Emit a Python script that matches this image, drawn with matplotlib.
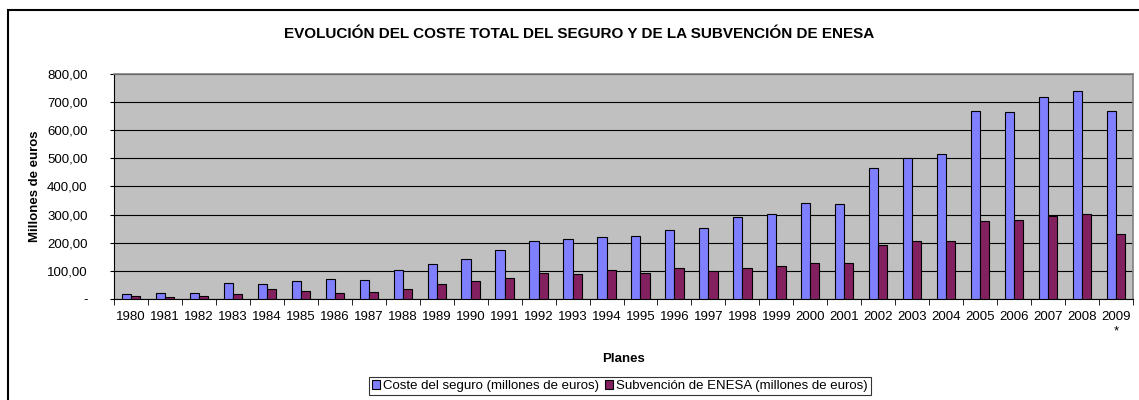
import matplotlib.pyplot as plt
import numpy as np
from matplotlib.patches import Rectangle
from matplotlib.ticker import FuncFormatter

plt.rcParams['font.family'] = ['Liberation Sans', 'DejaVu Sans']

years = [str(y) for y in range(1980, 2009)] + ["2009\n*"]

coste = [18, 21, 21, 57, 52, 65, 71, 69, 102, 124,
         142, 176, 205, 215, 220, 225, 247, 254, 291, 302,
         342, 338, 465, 501, 514, 669, 664, 717, 740, 669]

subvencion = [12, 8, 11, 18, 35, 30, 20, 25, 35, 53,
              65, 75, 92, 89, 102, 92, 110, 99, 112, 117,
              127, 127, 193, 207, 205, 278, 280, 296, 304, 231]

fig = plt.figure(figsize=(11.39, 4.0), dpi=100)
ax = fig.add_axes([114 / 1139, 1 - 299 / 400, (1133 - 114) / 1139, (299 - 74) / 400])

# outer chart border
fig.patches.append(Rectangle((7.5 / 1139, -0.05), 1.1, 1 - 9.5 / 400 + 0.05,
                             transform=fig.transFigure, fill=False,
                             edgecolor='black', linewidth=1.5))

x = np.arange(len(years))
w = 0.27
ax.bar(x - w / 2, coste, w, color='#8080FF', edgecolor='black', linewidth=0.8,
       label='Coste del seguro (millones de euros)', zorder=3)
ax.bar(x + w / 2, subvencion, w, color='#832060', edgecolor='black', linewidth=0.8,
       label='Subvención de ENESA (millones de euros)', zorder=3)

ax.set_facecolor('#C0C0C0')
ax.set_xlim(-0.5, len(years) - 0.5)
ax.set_ylim(0, 800)
ax.set_yticks(range(0, 801, 100))
ax.yaxis.set_major_formatter(FuncFormatter(
    lambda v, p: '-' if v == 0 else f"{v:.2f}".replace('.', ',')))
ax.grid(axis='y', color='black', linewidth=0.8, zorder=1)

ax.set_xticks(x)
ax.set_xticklabels(years, fontsize=9.5, linespacing=1.25)
ax.tick_params(axis='x', length=0, pad=9)
ax.set_xticks(np.arange(-0.5, len(years), 1), minor=True)
ax.tick_params(axis='x', which='minor', length=4, direction='out')
ax.tick_params(axis='y', labelsize=9.5, length=3, pad=16, direction='out')

for s in ['left', 'bottom']:
    ax.spines[s].set_color('black')
for s in ['top', 'right']:
    ax.spines[s].set_color('#808080')
    ax.spines[s].set_linewidth(1.2)

ax.set_xlabel('Planes', fontsize=9.5, fontweight='bold')
ax.xaxis.set_label_coords(0.5, (299 - 353) / 225)
ax.set_ylabel('Millones de euros', fontsize=9.5, fontweight='bold')
ax.yaxis.set_label_coords((41 - 114) / 1019, 0.5)

fig.text(579 / 1139, 1 - 34 / 400, 'EVOLUCIÓN DEL COSTE TOTAL DEL SEGURO Y DE LA SUBVENCIÓN DE ENESA',
         ha='center', va='center', fontsize=11, fontweight='bold')

leg = fig.legend(loc='center', bbox_to_anchor=(620 / 1139, 1 - 386 / 400), ncol=2,
                 fontsize=9.5, frameon=True, fancybox=False, edgecolor='black',
                 handlelength=0.6, handleheight=0.6, handletextpad=0.2,
                 columnspacing=0.5, borderpad=0.25, borderaxespad=0)
leg.get_frame().set_linewidth(0.8)

fig.savefig('out.png', dpi=100)
